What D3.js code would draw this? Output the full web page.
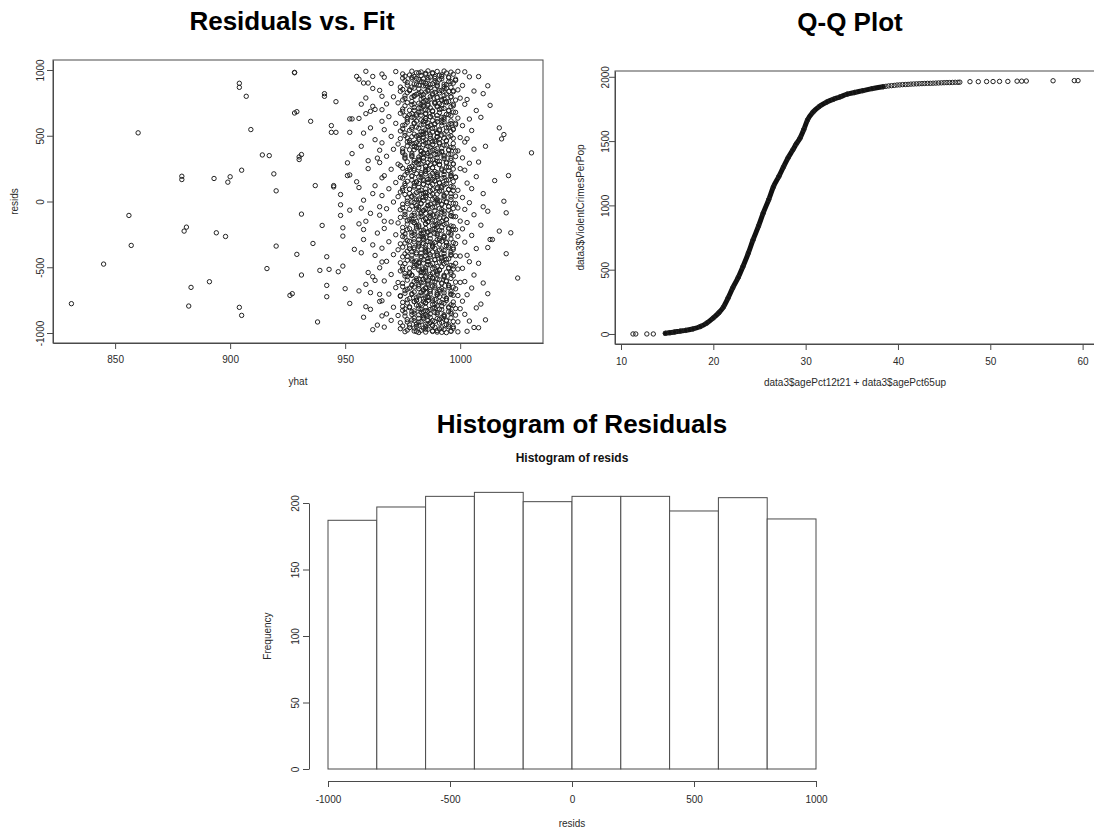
<!DOCTYPE html>
<html>
<head>
<meta charset="utf-8">
<script src="https://cdn.jsdelivr.net/npm/d3@7"></script>
<style>
    body { margin: 0; background: #fff; }
    text { font-family: "Liberation Sans", Arial, Helvetica, sans-serif; fill: #2a2a2a; }
    .title { font-size: 26px; font-weight: bold; fill: #000; }
    .sub-title { font-size: 12px; font-weight: bold; fill: #111; }
    .axis-label { font-size: 10px; }
</style>
</head>
<body>
<div id="chart"></div>
<script>
// ---- Residuals vs. Fit : [yhat, resid] ----
// sparse points left / right of the main band
const fitSparse = [
    [831,-777],[845,-476],[856,-106],[857,-334],[860,522],[879,192],[879,167],[880,-225],[881,-195],[882,-795],
    [883,-653],[891,-610],[893,175],[894,-238],[898,-266],[899,147],[900,188],[904,899],[904,868],[904,-805],
    [905,-866],[905,238],[907,800],[909,547],[914,354],[917,349],[916,-510],[919,210],[920,81],[920,-339],
    [928,979],[928,982],[941,820],[941,800],[946,759],[928,673],[929,683],[935,610],[944,577],[944,526],
    [946,526],[952,628],[953,628],[956,632],[952,526],[955,951],[958,901],[960,901],[962,951],[966,969],
    [959,787],[962,724],[959,668],[961,686],[930,339],[931,357],[930,319],[937,121],[945,121],[945,111],
    [948,53],[953,364],[951,294],[951,197],[952,202],[956,106],[948,-25],[952,-66],[931,-96],[948,-106],
    [940,-182],[949,-200],[949,-263],[958,-213],[959,-150],[936,-319],[929,-402],[942,-420],[954,-364],[958,-289],
    [939,-524],[943,-516],[947,-534],[949,-491],[931,-559],[942,-638],[942,-724],[926,-714],[927,-701],[950,-663],
    [952,-775],[938,-916],[962,-572],[959,-630],[961,-693],[965,-706],
    [1031,370],[1025,-582],[1021,197],[1019,2],[1020,-86],[1020,-397],[1022,-238],[1017,-225],[1017,560],[1019,509],
    [1018,476],[1013,731],[1013,-289],[1014,-289],[1012,-701],[1015,159],[1012,-74]
];
// medium density flanks of the band
const fitFlank = [
    [956,930],[962,860],[957,740],[966,610],[961,560],[963,470],[957,420],[964,330],[960,250],[966,180],
    [955,150],[962,60],[958,10],[965,-40],[961,-90],[956,-170],[964,-240],[962,-330],[957,-390],[966,-460],
    [960,-540],[963,-600],[956,-680],[965,-760],[961,-820],[958,-880],[964,-940],[962,-975],[959,990],[966,800],
    [963,700],[958,520],[965,390],[960,310],[967,-150],[963,-410],[959,-800],[966,-870],[957,-50],[963,120],
    [1008,950],[1010,820],[1009,640],[1011,420],[1008,300],[1010,60],[1009,-180],[1012,-350],[1008,-470],[1010,-620],
    [1009,-780],[1011,-900],[1008,-960],[1012,880],[1010,-40]
];
// band around yhat 965..1008
const fitBand = [
    [972,988],[979,991],[983,985],[986,993],[988,980],[990,989],[993,992],[996,984],[999,990],[1002,986],[985,975],[981,979],
    [967,945],[975,938],[980,950],[984,932],[987,946],[989,936],[992,951],[995,941],[998,930],[1004,948],[982,927],[991,925],
    [970,898],[977,885],[981,893],[985,880],[988,896],[990,884],[994,889],[997,900],[1001,882],[986,872],[979,870],[993,875],
    [965,845],[974,838],[978,850],[983,833],[986,847],[989,830],[991,843],[995,836],[999,849],[1006,840],[982,822],[988,820],
    [971,796],[976,784],[980,799],[984,788],[987,778],[990,793],[993,781],[996,797],[1000,786],[1003,776],[985,770],[992,768],
    [968,742],[973,750],[979,736],[982,747],[986,731],[989,744],[992,735],[994,751],[997,728],[1002,739],[984,722],[990,720],
    [966,698],[975,686],[980,693],[983,680],[986,695],[988,684],[991,700],[995,689],[998,678],[1007,692],[985,670],[979,668],
    [969,645],[977,638],[981,650],[985,632],[987,646],[990,629],[993,641],[996,652],[999,634],[1004,627],[983,620],[992,618],
    [972,594],[976,583],[980,598],[984,587],[987,579],[989,592],[992,600],[995,584],[998,595],[1001,577],[986,570],[981,566],
    [967,546],[974,536],[979,549],[983,531],[986,543],[988,528],[991,547],[994,535],[997,551],[1005,540],[985,520],[990,518],
    [970,495],[977,484],[981,497],[984,488],[987,480],[990,493],[993,482],[996,498],[1000,486],[1003,477],[982,470],[989,468],
    [966,446],[973,437],[978,450],[982,431],[985,444],[988,433],[991,448],[994,429],[997,441],[1002,452],[986,420],[980,418],
    [971,397],[975,383],[980,394],[983,386],[987,378],[989,396],[992,381],[995,392],[999,385],[1006,398],[984,370],[991,368],
    [968,344],[976,337],[979,350],[984,331],[986,347],[990,334],[993,349],[996,328],[998,342],[1001,332],[982,320],[988,318],
    [965,296],[973,284],[981,298],[983,287],[987,279],[989,293],[991,281],[994,299],[997,286],[1004,291],[985,270],[979,268],
    [970,245],[977,236],[980,249],[985,231],[986,243],[989,228],[992,247],[995,234],[1000,250],[1002,238],[983,220],[990,218],
    [967,196],[974,183],[979,195],[982,187],[987,179],[990,194],[993,182],[996,198],[998,185],[1007,189],[984,170],[988,168],
    [972,144],[976,137],[981,150],[984,131],[986,146],[988,129],[991,143],[994,136],[997,151],[1003,140],[980,120],[992,118],
    [969,97],[975,84],[978,93],[983,86],[987,79],[990,96],[992,81],[995,92],[999,85],[1005,98],[985,70],[981,68],
    [966,45],[973,37],[980,50],[984,31],[985,44],[989,28],[993,47],[996,34],[998,41],[1001,30],[982,20],[990,18],
    [971,-4],[977,-16],[979,-2],[983,-13],[987,-21],[990,-6],[992,-19],[994,-1],[997,-14],[1004,-9],[986,-30],[981,-32],
    [968,-55],[974,-63],[981,-50],[984,-69],[986,-56],[989,-71],[991,-53],[995,-66],[999,-49],[1002,-60],[983,-80],[992,-82],
    [965,-104],[976,-117],[980,-106],[983,-114],[987,-121],[988,-103],[993,-119],[996,-108],[998,-115],[1006,-101],[985,-130],[979,-132],
    [970,-155],[973,-163],[979,-150],[985,-169],[986,-157],[990,-172],[992,-153],[994,-166],[1000,-149],[1003,-160],[982,-180],[989,-182],
    [967,-205],[977,-214],[981,-202],[984,-217],[987,-222],[989,-206],[991,-219],[995,-201],[997,-213],[1001,-208],[986,-230],[980,-232],
    [972,-253],[975,-266],[980,-250],[983,-263],[985,-271],[990,-255],[993,-268],[996,-252],[999,-265],[1005,-258],[984,-280],[991,-282],
    [969,-306],[976,-316],[978,-302],[984,-319],[987,-308],[988,-321],[992,-303],[994,-314],[998,-320],[1002,-309],[982,-330],[988,-332],
    [966,-355],[973,-367],[980,-350],[983,-362],[986,-371],[989,-356],[991,-369],[995,-351],[997,-364],[1007,-358],[985,-380],[979,-382],
    [971,-404],[977,-417],[981,-400],[985,-413],[987,-421],[990,-406],[993,-419],[996,-402],[1000,-415],[1003,-409],[983,-430],[992,-432],
    [968,-455],[974,-466],[979,-451],[982,-469],[986,-457],[988,-472],[992,-453],[994,-464],[998,-470],[1004,-458],[986,-480],[981,-482],
    [965,-504],[975,-516],[980,-501],[984,-513],[985,-521],[989,-506],[991,-519],[995,-503],[999,-514],[1001,-508],[983,-530],[990,-532],
    [970,-555],[976,-567],[978,-550],[983,-563],[987,-571],[990,-556],[993,-569],[996,-552],[997,-565],[1006,-559],[985,-580],[988,-582],
    [967,-604],[973,-616],[981,-600],[984,-613],[986,-621],[988,-606],[992,-619],[994,-602],[1000,-615],[1002,-609],[982,-630],[979,-632],
    [972,-655],[977,-667],[980,-650],[985,-663],[987,-671],[989,-656],[991,-669],[995,-652],[998,-664],[1005,-658],[984,-680],[991,-682],
    [969,-704],[974,-716],[979,-700],[983,-713],[986,-721],[990,-706],[993,-719],[996,-702],[999,-715],[1003,-709],[986,-730],[981,-732],
    [966,-755],[975,-767],[981,-750],[984,-763],[985,-771],[988,-756],[992,-769],[994,-752],[997,-764],[1001,-758],[983,-780],[989,-782],
    [971,-804],[976,-816],[978,-800],[982,-813],[987,-821],[989,-806],[991,-819],[995,-802],[1000,-815],[1007,-809],[985,-830],[980,-832],
    [968,-855],[973,-867],[980,-850],[985,-863],[986,-871],[990,-856],[993,-869],[996,-852],[998,-864],[1002,-858],[984,-880],[992,-882],
    [970,-904],[977,-916],[979,-900],[983,-913],[987,-921],[988,-906],[992,-919],[994,-902],[999,-915],[1004,-909],[986,-930],[981,-932],
    [967,-955],[974,-967],[981,-950],[984,-963],[986,-971],[989,-956],[991,-969],[995,-952],[997,-964],[1006,-958],[983,-980],[990,-982],
    [976,-990],[980,-985],[985,-993],[988,-988],[992,-995],[996,-986],[999,-991],[1003,-987],[982,-996],[994,-997]
];
// dense core of the band, yhat 974..998
const fitCore = [
    [975,970],[978,962],[982,978],[985,966],[988,973],[991,960],[994,977],[997,968],
    [976,918],[979,931],[983,912],[986,926],[989,915],[992,933],[995,910],[998,921],
    [974,870],[980,862],[984,879],[987,865],[990,877],[993,858],[996,868],[982,884],
    [977,828],[981,815],[985,832],[988,811],[991,826],[994,818],[997,835],[980,806],
    [975,772],[979,761],[983,779],[986,764],[989,756],[992,774],[995,760],[998,771],
    [976,728],[980,715],[984,733],[987,712],[990,726],[993,708],[996,721],[983,739],
    [974,671],[978,660],[982,679],[985,665],[988,657],[991,676],[994,662],[997,680],
    [977,622],[981,611],[985,630],[988,615],[990,607],[993,626],[996,613],[980,636],
    [975,578],[979,564],[983,582],[986,568],[989,559],[992,579],[995,566],[998,584],
    [976,521],[980,512],[984,530],[987,508],[990,524],[993,515],[996,533],[982,503],
    [974,478],[978,463],[982,484],[985,469],[988,456],[991,476],[994,461],[997,481],
    [977,422],[981,410],[984,432],[987,415],[990,404],[993,428],[996,412],[979,438],
    [975,371],[979,362],[983,380],[986,365],[989,357],[992,377],[995,360],[998,383],
    [976,328],[980,312],[984,331],[987,317],[990,306],[993,326],[996,314],[982,338],
    [974,272],[978,260],[982,281],[985,266],[988,257],[991,279],[994,263],[997,284],
    [977,221],[981,212],[985,230],[988,214],[990,205],[993,228],[996,211],[980,236],
    [975,178],[979,163],[983,181],[986,167],[989,158],[992,176],[995,164],[998,185],
    [976,121],[980,110],[984,131],[987,115],[990,106],[993,127],[996,113],[982,137],
    [974,72],[978,61],[982,80],[985,66],[988,57],[991,78],[994,63],[997,82],
    [977,28],[981,12],[985,31],[988,17],[990,6],[993,26],[996,14],[979,37],
    [975,-21],[979,-36],[983,-18],[986,-33],[989,-42],[992,-24],[995,-38],[998,-15],
    [976,-78],[980,-89],[984,-70],[987,-85],[990,-94],[993,-73],[996,-87],[982,-63],
    [974,-121],[978,-137],[982,-118],[985,-132],[988,-141],[991,-124],[994,-136],[997,-115],
    [977,-172],[981,-188],[985,-169],[988,-183],[990,-194],[993,-174],[996,-186],[980,-162],
    [975,-228],[979,-239],[983,-220],[986,-235],[989,-244],[992,-223],[995,-237],[998,-214],
    [976,-271],[980,-287],[984,-268],[987,-282],[990,-291],[993,-274],[996,-285],[982,-262],
    [974,-322],[978,-338],[982,-318],[985,-333],[988,-342],[991,-325],[994,-336],[997,-313],
    [977,-378],[981,-389],[985,-370],[988,-384],[990,-393],[993,-373],[996,-386],[980,-362],
    [975,-421],[979,-437],[983,-418],[986,-432],[989,-441],[992,-424],[995,-436],[998,-413],
    [976,-472],[980,-488],[984,-469],[987,-483],[990,-494],[993,-474],[996,-486],[982,-462],
    [974,-528],[978,-539],[982,-520],[985,-535],[988,-544],[991,-523],[994,-537],[997,-514],
    [977,-571],[981,-587],[985,-568],[988,-582],[990,-591],[993,-574],[996,-585],[979,-562],
    [975,-622],[979,-638],[983,-618],[986,-633],[989,-642],[992,-625],[995,-636],[998,-613],
    [976,-678],[980,-689],[984,-670],[987,-684],[990,-693],[993,-673],[996,-686],[982,-662],
    [974,-721],[978,-737],[982,-718],[985,-732],[988,-741],[991,-724],[994,-736],[997,-713],
    [977,-772],[981,-788],[985,-769],[988,-783],[990,-794],[993,-774],[996,-786],[980,-762],
    [975,-828],[979,-839],[983,-820],[986,-835],[989,-844],[992,-823],[995,-837],[998,-814],
    [976,-871],[980,-887],[984,-868],[987,-882],[990,-891],[993,-874],[996,-885],[982,-862],
    [974,-922],[978,-938],[982,-918],[985,-933],[988,-942],[991,-925],[994,-936],[997,-913],
    [977,-978],[981,-989],[985,-970],[988,-984],[990,-993],[993,-973],[996,-986],[980,-962]
];
// second layer of the core, between the rows above
const fitCore2 = [
    [976,953],[979,944],[983,958],[986,941],[989,950],[992,963],[995,946],[981,936],
    [977,905],[980,894],[984,908],[987,889],[990,902],[993,892],[996,911],[985,897],
    [975,852],[978,843],[982,857],[986,840],[989,855],[992,846],[994,861],[997,842],
    [976,803],[979,792],[983,808],[987,797],[990,789],[993,806],[996,794],[984,813],
    [977,752],[980,743],[984,757],[986,741],[989,753],[991,745],[994,760],[997,739],
    [975,703],[978,694],[982,709],[985,697],[988,690],[992,706],[995,693],[983,712],
    [976,652],[979,641],[983,657],[987,644],[990,655],[992,640],[995,660],[981,664],
    [977,603],[980,594],[984,609],[986,597],[989,589],[993,606],[996,592],[985,614],
    [975,553],[978,541],[982,557],[985,545],[988,556],[991,538],[994,560],[997,547],
    [976,502],[979,493],[983,507],[987,496],[990,489],[992,505],[995,491],[984,511],
    [977,453],[980,441],[984,459],[986,447],[989,455],[991,439],[994,462],[981,448],
    [975,402],[978,393],[982,408],[985,396],[988,389],[992,405],[995,392],[997,410],
    [976,353],[979,341],[983,357],[987,345],[990,356],[993,339],[996,360],[984,362],
    [977,302],[980,293],[984,308],[986,296],[989,289],[991,305],[994,292],[982,311],
    [975,253],[978,241],[982,257],[985,245],[988,256],[992,239],[995,260],[997,247],
    [976,202],[979,193],[983,207],[987,196],[990,189],[993,205],[996,191],[985,210],
    [977,153],[980,141],[984,159],[986,147],[989,155],[991,139],[994,162],[981,148],
    [975,102],[978,93],[982,108],[985,96],[988,89],[992,105],[995,92],[997,110],
    [976,53],[979,41],[983,57],[987,45],[990,56],[993,39],[996,60],[984,62],
    [977,2],[980,-7],[984,8],[986,-4],[989,-11],[991,5],[994,-8],[982,11],
    [975,-47],[978,-59],[982,-43],[985,-55],[988,-44],[992,-61],[995,-40],[997,-53],
    [976,-98],[979,-107],[983,-93],[987,-104],[990,-111],[993,-95],[996,-109],[985,-90],
    [977,-147],[980,-159],[984,-141],[986,-153],[989,-145],[991,-161],[994,-138],[981,-152],
    [975,-198],[978,-207],[982,-192],[985,-204],[988,-211],[992,-195],[995,-208],[997,-190],
    [976,-247],[979,-259],[983,-243],[987,-255],[990,-244],[993,-261],[996,-240],[984,-238],
    [977,-298],[980,-307],[984,-292],[986,-304],[989,-311],[991,-295],[994,-308],[982,-289],
    [975,-347],[978,-359],[982,-341],[985,-353],[988,-345],[992,-361],[995,-338],[997,-352],
    [976,-398],[979,-407],[983,-393],[987,-404],[990,-411],[993,-395],[996,-409],[985,-390],
    [977,-447],[980,-459],[984,-443],[986,-455],[989,-444],[991,-461],[994,-440],[981,-452],
    [975,-498],[978,-507],[982,-492],[985,-504],[988,-511],[992,-495],[995,-508],[997,-490],
    [976,-547],[979,-559],[983,-541],[987,-553],[990,-545],[993,-561],[996,-538],[984,-540],
    [977,-598],[980,-607],[984,-593],[986,-604],[989,-611],[991,-595],[994,-609],[982,-590],
    [975,-647],[978,-659],[982,-643],[985,-655],[988,-644],[992,-661],[995,-640],[997,-652],
    [976,-698],[979,-707],[983,-692],[987,-704],[990,-711],[993,-695],[996,-708],[985,-690],
    [977,-747],[980,-759],[984,-741],[986,-753],[989,-745],[991,-761],[994,-738],[981,-752],
    [975,-798],[978,-807],[982,-793],[985,-804],[988,-811],[992,-795],[995,-809],[997,-790],
    [976,-847],[979,-859],[983,-843],[987,-855],[990,-844],[993,-861],[996,-840],[984,-838],
    [977,-898],[980,-907],[984,-892],[986,-904],[989,-911],[991,-895],[994,-908],[982,-889],
    [975,-947],[978,-959],[982,-941],[985,-953],[988,-945],[992,-961],[995,-938],[997,-952]
];
const fitXTicks = [850, 900, 950, 1000];
const fitYTicks = [-1000, -500, 0, 500, 1000];

// ---- Q-Q plot : sorted x vs sorted y ----
const qqX = [11.3, 11.6, 12.8, 13.5, 14.8, 15.3, 15.8, 16.4, 17.0, 17.8, 18.6, 19.3, 20.0, 20.6, 21.1, 21.6, 22.1, 22.7,
    23.2, 23.8, 24.3, 24.9, 25.4, 26.0, 26.5, 27.1, 27.6, 28.1, 28.6, 29.0, 29.4, 29.8, 30.2, 30.8, 31.5, 32.3, 33.0, 33.7,
    34.5, 35.3, 36.2, 37.2, 38.4, 38.7, 39.0, 39.3, 39.6, 39.9, 40.2, 40.5, 40.8, 41.1, 41.4, 41.7, 42.0, 42.3, 42.6, 42.9,
    43.2, 43.5, 43.8, 44.1, 44.4, 44.7, 45.0, 45.3, 45.6, 45.9, 46.2, 46.5, 46.7, 47.8, 48.7,
    49.6, 50.3, 51.0, 51.9, 52.9, 53.4, 53.9, 56.8, 59.1, 59.5];
const qqY = [0, 0, 0, 0, 5, 10, 15, 22, 28, 39, 58, 85, 125, 165, 210, 280, 358, 440,
    523, 630, 731, 840, 940, 1045, 1143, 1225, 1299, 1370, 1430, 1480, 1524, 1590, 1664, 1726, 1770, 1804, 1825, 1843,
    1865, 1878, 1892, 1908, 1923, 1926, 1929, 1931, 1933, 1936, 1937, 1939, 1940, 1941, 1943, 1944, 1945, 1946, 1947, 1948,
    1949, 1949, 1950, 1951, 1952, 1953, 1954, 1955, 1955, 1956, 1957, 1957, 1958, 1962, 1962,
    1963, 1963, 1964, 1964, 1966, 1966, 1967, 1969, 1970, 1970];
const qqDenseRange = [14.8, 38.4];
const qqXTicks = [10, 20, 30, 40, 50, 60];
const qqYTicks = [0, 500, 1000, 1500, 2000];

// ---- Histogram of resids ----
const histEdges = [-1000, -800, -600, -400, -200, 0, 200, 400, 600, 800, 1000];
const histCounts = [187, 197, 205, 208, 201, 205, 205, 194, 204, 188];
const histXTicks = [-1000, -500, 0, 500, 1000];
const histYTicks = [0, 50, 100, 150, 200];

const AXIS_COLOR = "#4a4a4a";
const POINT_COLOR = "#222";

const svg = d3.select("#chart").append("svg")
    .attr("width", 1094)
    .attr("height", 830);

function styleAxis(ax) {
    ax.attr("font-family", null).attr("font-size", null);
    ax.select(".domain").attr("stroke", AXIS_COLOR);
    ax.selectAll(".tick line").attr("stroke", AXIS_COLOR);
    ax.selectAll(".tick text").attr("fill", "#2a2a2a").attr("font-size", 10);
}

function bottomAxis(scale, ticks, y, labelY) {
    let ax = svg.append("g")
        .attr("transform", `translate(0,${y})`)
        .call(d3.axisBottom(scale).tickValues(ticks).tickSize(6).tickSizeOuter(0).tickFormat(d => String(d)));
    styleAxis(ax);
    ax.selectAll(".tick text").attr("y", labelY).attr("dy", "0.35em");
}

function leftAxis(scale, ticks, x, labelX) {
    let ax = svg.append("g")
        .attr("transform", `translate(${x},0)`)
        .call(d3.axisLeft(scale).tickValues(ticks).tickSize(6).tickSizeOuter(0).tickFormat(d => String(d)));
    styleAxis(ax);
    // R style: y tick labels run parallel to the axis
    ax.selectAll(".tick text")
        .attr("x", 0)
        .attr("dy", "0.35em")
        .attr("y", -labelX)
        .attr("text-anchor", "middle")
        .attr("transform", "rotate(-90)");
}

function label(txt, x, y, rotate) {
    svg.append("text")
        .attr("class", "axis-label")
        .attr("text-anchor", "middle")
        .attr("dy", "0.35em")
        .attr("transform", `translate(${x},${y})` + (rotate ? " rotate(-90)" : ""))
        .text(txt);
}

function title(txt, x, y) {
    svg.append("text")
        .attr("class", "title")
        .attr("x", x)
        .attr("y", y)
        .attr("text-anchor", "middle")
        .text(txt);
}

function points(data, x, y) {
    svg.append("g").selectAll("circle")
        .data(data)
        .enter().append("circle")
        .attr("cx", d => x(d[0]))
        .attr("cy", d => y(d[1]))
        .attr("r", 2.2)
        .attr("fill", "none")
        .attr("stroke", POINT_COLOR)
        .attr("stroke-width", 1);
}

// ---------- Residuals vs. Fit ----------
{
    const box = { left: 53, right: 543, top: 60, bottom: 343 };
    const x = d3.scaleLinear().domain([823, 1036]).range([box.left, box.right]);
    const y = d3.scaleLinear().domain([-1076, 1076]).range([box.bottom, box.top]);

    title("Residuals vs. Fit", 292, 30);

    points(fitSparse.concat(fitFlank, fitBand, fitCore, fitCore2), x, y);

    svg.append("rect")
        .attr("x", box.left).attr("y", box.top)
        .attr("width", box.right - box.left).attr("height", box.bottom - box.top)
        .attr("fill", "none").attr("stroke", AXIS_COLOR);

    bottomAxis(x, fitXTicks, box.bottom, 16);
    leftAxis(y, fitYTicks, box.left, 12.5);
    label("yhat", (box.left + box.right) / 2, 381);
    label("resids", 14, (box.top + box.bottom) / 2, true);
}

// ---------- Q-Q Plot ----------
{
    const box = { left: 615, right: 1096, top: 71, bottom: 344 };
    const x = d3.scaleLinear().domain([9.35, 61.45]).range([box.left, box.right]);
    const y = d3.scaleLinear().domain([-78, 2045]).range([box.bottom, box.top]);

    title("Q-Q Plot", 850, 31);

    const qq = qqX.map((v, i) => [v, qqY[i]]);
    const dense = qq.filter(d => d[0] >= qqDenseRange[0] && d[0] <= qqDenseRange[1]);

    // thousands of overlapping circles read as a solid band
    svg.append("path")
        .datum(dense)
        .attr("d", d3.line().x(d => x(d[0])).y(d => y(d[1])).curve(d3.curveMonotoneX))
        .attr("fill", "none")
        .attr("stroke", "#111")
        .attr("stroke-width", 5)
        .attr("stroke-linecap", "round");

    points(qq, x, y);

    svg.append("rect")
        .attr("x", box.left).attr("y", box.top)
        .attr("width", box.right - box.left).attr("height", box.bottom - box.top)
        .attr("fill", "none").attr("stroke", AXIS_COLOR);

    bottomAxis(x, qqXTicks, box.bottom, 17);
    leftAxis(y, qqYTicks, box.left, 10);
    label("data3$agePct12t21 + data3$agePct65up", 855, 382);
    label("data3$ViolentCrimesPerPop", 580, (box.top + box.bottom) / 2, true);
}

// ---------- Histogram of Residuals ----------
{
    const x = d3.scaleLinear().domain([-1000, 1000]).range([328, 816]);
    const y = d3.scaleLinear().domain([0, 200]).range([769, 503]);

    title("Histogram of Residuals", 582, 433);
    svg.append("text")
        .attr("class", "sub-title")
        .attr("x", 572).attr("y", 462)
        .attr("text-anchor", "middle")
        .text("Histogram of resids");

    const bins = histCounts.map((c, i) => ({ x0: histEdges[i], x1: histEdges[i + 1], count: c }));

    svg.append("g").selectAll("rect")
        .data(bins)
        .enter().append("rect")
        .attr("x", d => x(d.x0))
        .attr("width", d => x(d.x1) - x(d.x0))
        .attr("y", d => y(d.count))
        .attr("height", d => y(0) - y(d.count))
        .attr("fill", "#fff")
        .attr("stroke", AXIS_COLOR)
        .attr("stroke-width", 1);

    bottomAxis(x, histXTicks, 781, 18);
    leftAxis(y, histYTicks, 309, 14);
    label("resids", 572, 823);
    label("Frequency", 267, 636, true);
}
</script>
</body>
</html>
